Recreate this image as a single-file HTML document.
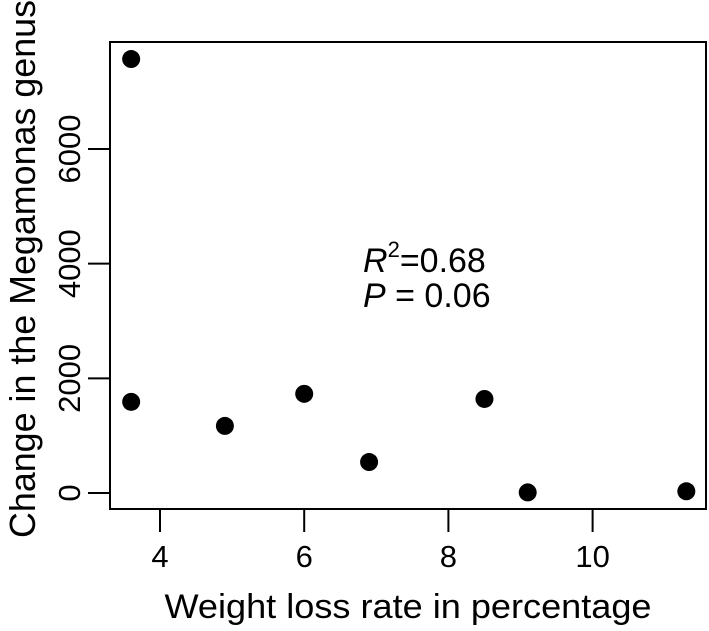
<!DOCTYPE html>
<html><head><meta charset="utf-8"><style>
body{margin:0;background:#fff}
svg text{font-family:"Liberation Sans",Arial,sans-serif;fill:#000}
</style></head><body>
<svg width="709" height="626" viewBox="0 0 709 626">
<g id="plot"></g>
</svg>
<script>
const xValues=[3.6,3.6,4.9,6.0,6.9,8.5,9.1,11.3];
const yValues=[7570,1590,1170,1730,540,1640,10,30];
const xTicks=[4,6,8,10];
const yTicks=[0,2000,4000,6000];
const NS="http://www.w3.org/2000/svg";
const g=document.getElementById('plot');
const L=110,R=707,T=42,B=509;
function sx(v){return 160+(v-4)*72.1;}
function sy(v){return 493-v*0.05733;}
function el(t,a){const e=document.createElementNS(NS,t);for(const k in a)e.setAttribute(k,a[k]);g.appendChild(e);return e;}
const box=el('rect',{x:L,y:T,width:R-L-1,height:B-T,fill:'none',stroke:'#000','stroke-width':2});


xTicks.forEach(t=>{
 const l=el('line',{x1:sx(t),x2:sx(t),y1:B,y2:B+23,stroke:'#000','stroke-width':2});
 
 
 const tx=el('text',{x:sx(t),y:567,'text-anchor':'middle','font-size':31});
 tx.textContent=t;
 
 
});
yTicks.forEach(t=>{
 const l=el('line',{x1:L-22,x2:L,y1:sy(t),y2:sy(t),stroke:'#000','stroke-width':2});
 
 
 const tx=el('text',{x:0,y:0,'text-anchor':'middle','font-size':31,transform:`translate(80,${sy(t)}) rotate(-90)`});
 tx.textContent=t;
 
 
});
xValues.forEach((x,i)=>{
 const c=el('circle',{cx:sx(x),cy:sy(yValues[i]),r:9,fill:'#000'});
 
 
});
const xt=el('text',{x:408,y:618,'text-anchor':'middle','font-size':34,textLength:487,lengthAdjust:'spacingAndGlyphs'});
xt.textContent='Weight loss rate in percentage';


const yt=el('text',{x:0,y:0,'text-anchor':'middle','font-size':36,textLength:538,lengthAdjust:'spacingAndGlyphs',transform:'translate(35,269) rotate(-90)'});
yt.textContent='Change in the Megamonas genus';


const r2=el('text',{x:363,y:272,'font-size':34});
r2.innerHTML='<tspan font-style="italic">R</tspan><tspan dy="-15" font-size="22">2</tspan><tspan dy="15">=0.68</tspan>';


const p=el('text',{x:363,y:307,'font-size':34});
p.innerHTML='<tspan font-style="italic">P</tspan> = 0.06';


</script>
</body></html>
